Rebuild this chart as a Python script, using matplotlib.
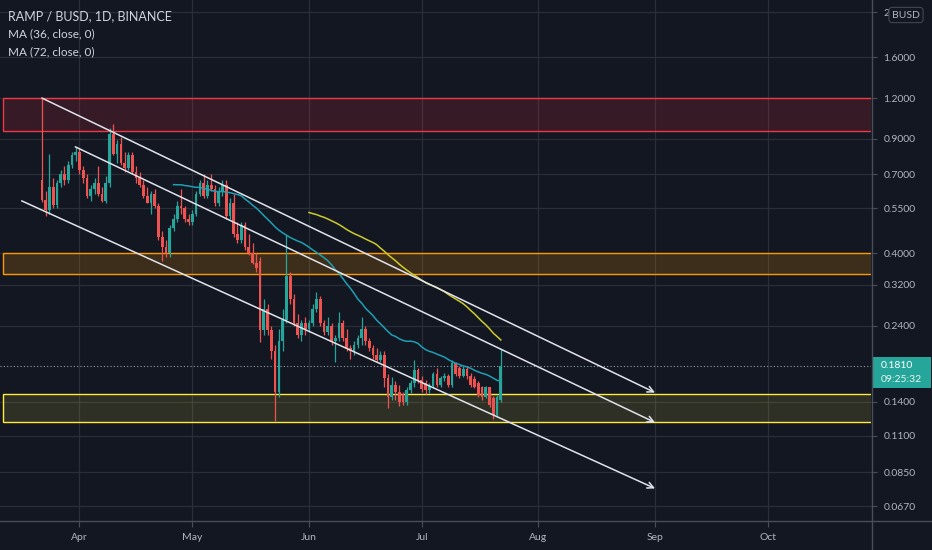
import matplotlib
matplotlib.use("Agg")
import matplotlib.pyplot as plt
import matplotlib.dates as mdates
import matplotlib.colors as mcolors
from matplotlib.patches import Rectangle
from matplotlib.lines import Line2D
from matplotlib.ticker import NullLocator
import pandas as pd

plt.rcParams["font.family"] = ["Lato", "DejaVu Sans"]

# RAMP / BUSD daily candles
dates = pd.date_range("2021-03-22", periods=123, freq="D")
opens = [0.67, 0.585, 0.545, 0.64, 0.565, 0.66, 0.70, 0.67, 0.75, 0.80,
         0.82, 0.72, 0.68, 0.60, 0.63, 0.66, 0.61, 0.58, 0.66, 0.93,
         0.81, 0.87, 0.76, 0.73, 0.80, 0.71, 0.68, 0.65, 0.60, 0.57,
         0.61, 0.56, 0.45, 0.42, 0.40, 0.48, 0.51, 0.56, 0.55, 0.51,
         0.50, 0.53, 0.61, 0.66, 0.60, 0.65, 0.63, 0.57, 0.62, 0.65,
         0.52, 0.57, 0.46, 0.44, 0.49, 0.42, 0.40, 0.375, 0.38, 0.233,
         0.27, 0.233, 0.20, 0.15, 0.215, 0.25, 0.34, 0.29, 0.245, 0.225,
         0.245, 0.235, 0.245, 0.27, 0.29, 0.245, 0.23, 0.24, 0.215, 0.22,
         0.245, 0.22, 0.205, 0.20, 0.21, 0.22, 0.235, 0.215, 0.205, 0.195,
         0.188, 0.195, 0.166, 0.145, 0.158, 0.15, 0.148, 0.14, 0.152, 0.16,
         0.176, 0.163, 0.16, 0.152, 0.157, 0.17, 0.158, 0.166, 0.168, 0.158,
         0.184, 0.178, 0.168, 0.177, 0.168, 0.165, 0.16, 0.155, 0.145, 0.155,
         0.144, 0.128, 0.142]
highs = [1.20, 0.62, 0.81, 0.68, 0.67, 0.72, 0.74, 0.77, 0.82, 0.85,
         0.84, 0.74, 0.70, 0.65, 0.68, 0.74, 0.64, 0.69, 0.97, 1.00,
         0.89, 0.91, 0.82, 0.82, 0.82, 0.74, 0.71, 0.67, 0.64, 0.62,
         0.63, 0.57, 0.47, 0.44, 0.49, 0.53, 0.58, 0.63, 0.56, 0.53,
         0.545, 0.62, 0.67, 0.70, 0.67, 0.70, 0.65, 0.64, 0.67, 0.67,
         0.59, 0.61, 0.50, 0.50, 0.50, 0.46, 0.43, 0.40, 0.39, 0.29,
         0.28, 0.24, 0.21, 0.235, 0.27, 0.455, 0.35, 0.30, 0.26, 0.25,
         0.255, 0.25, 0.28, 0.305, 0.295, 0.25, 0.255, 0.245, 0.225, 0.265,
         0.25, 0.235, 0.21, 0.215, 0.225, 0.255, 0.24, 0.22, 0.21, 0.205,
         0.20, 0.20, 0.17, 0.167, 0.162, 0.158, 0.15, 0.155, 0.163, 0.188,
         0.178, 0.168, 0.163, 0.16, 0.173, 0.178, 0.168, 0.172, 0.17, 0.188,
         0.186, 0.181, 0.18, 0.18, 0.172, 0.168, 0.162, 0.157, 0.157, 0.156,
         0.146, 0.147, 0.204]
lows = [0.575, 0.52, 0.53, 0.55, 0.55, 0.64, 0.65, 0.66, 0.73, 0.77,
        0.70, 0.66, 0.59, 0.58, 0.61, 0.60, 0.575, 0.57, 0.64, 0.80,
        0.76, 0.75, 0.71, 0.72, 0.70, 0.66, 0.64, 0.59, 0.57, 0.53,
        0.55, 0.44, 0.38, 0.39, 0.39, 0.47, 0.50, 0.53, 0.50, 0.49,
        0.49, 0.52, 0.60, 0.59, 0.59, 0.62, 0.56, 0.56, 0.60, 0.51,
        0.51, 0.45, 0.43, 0.43, 0.41, 0.395, 0.37, 0.35, 0.214, 0.225,
        0.225, 0.19, 0.122, 0.145, 0.20, 0.245, 0.28, 0.24, 0.22, 0.215,
        0.225, 0.23, 0.24, 0.265, 0.24, 0.225, 0.225, 0.21, 0.185, 0.215,
        0.215, 0.20, 0.19, 0.195, 0.205, 0.21, 0.21, 0.20, 0.19, 0.185,
        0.185, 0.155, 0.134, 0.142, 0.142, 0.136, 0.137, 0.137, 0.149, 0.155,
        0.16, 0.15, 0.148, 0.149, 0.154, 0.155, 0.155, 0.162, 0.155, 0.156,
        0.168, 0.166, 0.167, 0.165, 0.155, 0.154, 0.145, 0.142, 0.144, 0.135,
        0.124, 0.126, 0.14]
closes = [0.585, 0.545, 0.64, 0.565, 0.66, 0.70, 0.67, 0.75, 0.80, 0.82,
          0.72, 0.68, 0.60, 0.63, 0.66, 0.61, 0.58, 0.66, 0.93, 0.81,
          0.87, 0.76, 0.73, 0.80, 0.71, 0.68, 0.65, 0.60, 0.57, 0.61,
          0.56, 0.45, 0.42, 0.40, 0.48, 0.51, 0.56, 0.55, 0.51, 0.50,
          0.53, 0.61, 0.66, 0.60, 0.65, 0.63, 0.57, 0.62, 0.65, 0.52,
          0.57, 0.46, 0.44, 0.49, 0.42, 0.40, 0.375, 0.36, 0.233, 0.27,
          0.233, 0.20, 0.15, 0.215, 0.25, 0.34, 0.29, 0.245, 0.225, 0.245,
          0.235, 0.245, 0.27, 0.29, 0.245, 0.23, 0.24, 0.215, 0.22, 0.245,
          0.22, 0.205, 0.20, 0.21, 0.22, 0.235, 0.215, 0.205, 0.195, 0.188,
          0.195, 0.166, 0.145, 0.158, 0.15, 0.14, 0.14, 0.152, 0.16, 0.176,
          0.163, 0.153, 0.152, 0.157, 0.17, 0.158, 0.166, 0.168, 0.158, 0.184,
          0.171, 0.168, 0.177, 0.168, 0.158, 0.156, 0.147, 0.145, 0.155, 0.137,
          0.128, 0.145, 0.181]

ma_periods = [36, 72]
ma_colors = ["#1f9fb4", "#cdcb2c"]

# price zones (low, high) drawn as rectangles
zone_lows = [0.95, 0.347, 0.1216]
zone_highs = [1.2, 0.40, 0.148]
zone_colors = ["#f23645", "#ff9800", "#ffeb3b"]
zone_alpha = [0.16, 0.18, 0.12]
zone_start = "2021-03-11 16:00"
zone_end = "2021-12-31"

# channel lines, all ending on Sep 1 with an arrow
trend_starts = ["2021-03-22", "2021-03-30 21:00", "2021-03-16 15:00"]
trend_start_prices = [1.2, 0.85, 0.58]
trend_end = "2021-09-01"
trend_end_prices = [0.1495, 0.121, 0.0759]

price_ticks = [2.2, 1.6, 1.2, 0.9, 0.7, 0.55, 0.4, 0.32, 0.24, 0.14, 0.11, 0.085, 0.067]
price_labels = ["2", "1.6000", "1.2000", "0.9000", "0.7000", "0.5500", "0.4000",
                "0.3200", "0.2400", "0.1400", "0.1100", "0.0850", "0.0670"]
month_ticks = ["2021-04-01", "2021-05-01", "2021-06-01", "2021-07-01",
               "2021-08-01", "2021-09-01", "2021-10-01"]
month_labels = ["Apr", "May", "Jun", "Jul", "Aug", "Sep", "Oct"]

last_price = 0.181
countdown = "09:25:32"

bg = "#131722"
grid_c = "#2a2e39"
axis_c = "#4a4e59"
text_c = "#b2b5be"
up_c = "#26a69a"
down_c = "#ef5350"

W, H = 932, 550
fig = plt.figure(figsize=(W / 100, H / 100), dpi=100, facecolor=bg)
ax = fig.add_axes([0, 29 / H, 871 / W, 521 / H], facecolor=bg)
ax.set_yscale("log")

x = mdates.date2num(dates)

# zones
zx0 = mdates.date2num(pd.Timestamp(zone_start))
zx1 = mdates.date2num(pd.Timestamp(zone_end))
for lo, hi, c, a in zip(zone_lows, zone_highs, zone_colors, zone_alpha):
    ax.add_patch(Rectangle((zx0, lo), zx1 - zx0, hi - lo,
                           facecolor=mcolors.to_rgba(c, a), edgecolor=c,
                           lw=1.0, zorder=1))

# candles
cols = [up_c if c >= o else down_c for o, c in zip(opens, closes)]
bottoms = [min(o, c) for o, c in zip(opens, closes)]
heights = [max(abs(c - o), 0.0008) for o, c in zip(opens, closes)]
ax.vlines(x, lows, highs, colors=cols, lw=0.9, zorder=3)
ax.bar(x, heights, bottom=bottoms, width=0.72, color=cols, lw=0, zorder=3)

# moving averages
for n, c in zip(ma_periods, ma_colors):
    ma = pd.Series(closes).rolling(n).mean()
    ax.plot(x, ma, color=c, lw=1.1, zorder=4)

# channel lines
xe = mdates.date2num(pd.Timestamp(trend_end))
for s, p0, p1 in zip(trend_starts, trend_start_prices, trend_end_prices):
    xs = mdates.date2num(pd.Timestamp(s))
    ax.annotate("", xy=(xe, p1), xytext=(xs, p0),
                arrowprops=dict(arrowstyle="->", color="#e0e3eb", lw=1.1,
                                shrinkA=0, shrinkB=0, mutation_scale=11),
                zorder=5)

# last price line
ax.axhline(last_price, color="#8ea4ae", lw=0.8, ls=(0, (1, 2)), zorder=2)

left = mdates.date2num(pd.Timestamp("2021-04-01") - pd.Timedelta(days=21.13))
right = mdates.date2num(pd.Timestamp("2021-04-01") + pd.Timedelta(days=210.4))
ax.set_xlim(left, right)
ax.set_ylim(0.0603, 2.40)

ax.yaxis.tick_right()
ax.set_yticks(price_ticks)
ax.set_yticklabels(price_labels)
ax.yaxis.set_minor_locator(NullLocator())
ax.set_xticks(mdates.date2num(pd.to_datetime(month_ticks)))
ax.set_xticklabels(month_labels)
ax.tick_params(axis="y", length=4, pad=5, colors=axis_c, labelcolor=text_c,
               labelsize=7.5, width=0.8)
ax.tick_params(axis="x", length=4, pad=5, colors=axis_c, labelcolor=text_c,
               labelsize=7.5, width=0.8)
ax.grid(True, color=grid_c, lw=0.9, zorder=0)
ax.set_axisbelow(True)
for sp in ax.spines.values():
    sp.set_visible(False)

# scale separators
fig.add_artist(Line2D([872 / W, 872 / W], [0, 1], color=axis_c, lw=1.0))
fig.add_artist(Line2D([0, 1], [29 / H, 29 / H], color=axis_c, lw=1.0))

# last price badge
fig.canvas.draw()
yd = ax.transData.transform((x[0], last_price))[1]
fig.add_artist(Rectangle((873 / W, (yd - 22) / H), 58 / W, 31 / H,
                         transform=fig.transFigure, facecolor=up_c,
                         edgecolor="none"))
fig.text(881 / W, yd / H, "%.4f" % last_price, color="white", fontsize=7.5,
         va="center", ha="left")
fig.text(881 / W, (yd - 14) / H, countdown, color="#e6f4f2", fontsize=7.5,
         va="center", ha="left")

# currency badge, to the right of the top tick label
fig.text(906 / W, 1 - 15 / H, "BUSD", color=text_c, fontsize=7.5,
         ha="center", va="center",
         bbox=dict(boxstyle="round,pad=0.3", fc=bg, ec="#434651", lw=0.8))

# legend
fig.text(8 / W, 1 - 16 / H, "RAMP / BUSD, 1D, BINANCE", color="#d1d4dc",
         fontsize=9, va="center", ha="left")
fig.text(8 / W, 1 - 34 / H, "MA (36, close, 0)", color="#d1d4dc",
         fontsize=8.5, va="center", ha="left")
fig.text(8 / W, 1 - 52 / H, "MA (72, close, 0)", color="#d1d4dc",
         fontsize=8.5, va="center", ha="left")

fig.savefig("out.png", dpi=100, facecolor=bg)
